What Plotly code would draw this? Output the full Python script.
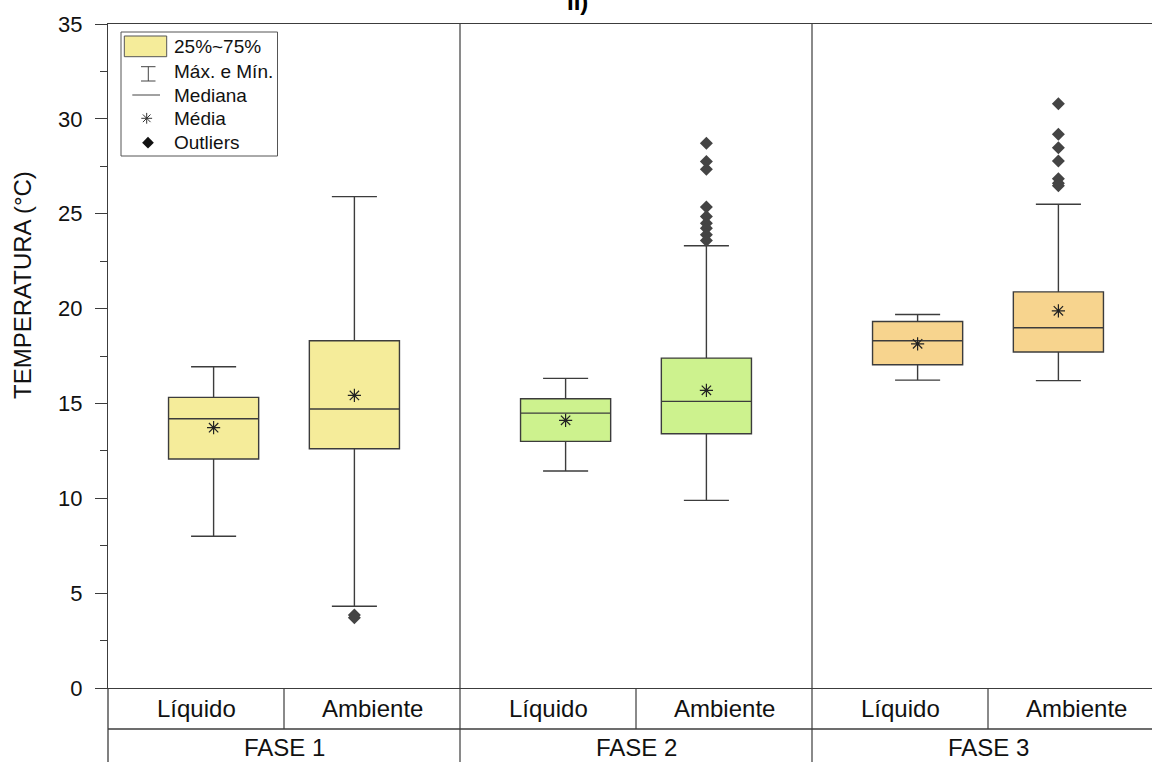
import plotly.graph_objects as go

# ---------------- data ----------------
phases = ["FASE 1", "FASE 2", "FASE 3"]
groups = ["Líquido", "Ambiente"]
fill_colors = ["#F5EC9A", "#CDF28E", "#F7D48E"]

# box order: F1 Líquido, F1 Ambiente, F2 Líquido, F2 Ambiente, F3 Líquido, F3 Ambiente
q1 = [12.07, 12.61, 13.00, 13.40, 17.04, 17.71]
median = [14.19, 14.71, 14.49, 15.11, 18.30, 18.99]
q3 = [15.32, 18.30, 15.25, 17.39, 19.32, 20.88]
lower = [8.00, 4.31, 11.44, 9.89, 16.23, 16.20]
upper = [16.93, 25.90, 16.32, 23.31, 19.69, 25.50]
mean = [13.72, 15.42, 14.11, 15.69, 18.14, 19.88]
outliers = [
    [],
    [3.85, 3.70],
    [],
    [28.72, 27.75, 27.35, 25.35, 24.85, 24.50, 24.24, 23.89, 23.59],
    [],
    [30.79, 29.19, 28.48, 27.78, 26.84, 26.61, 26.47],
]
y_ticks = [0, 5, 10, 15, 20, 25, 30, 35]
legend_labels = ["25%~75%", "Máx. e Mín.", "Mediana", "Média", "Outliers"]

# ---------------- layout constants ----------------
W, H = 1152, 762
L, T, B = 108, 24, 74
plot_w = W - L
plot_h = H - T - B
PHASE_PX = 352.0
XMIN = -0.5
XMAX = XMIN + plot_w / PHASE_PX
OFF = 0.2
BOXW = 0.256
LINE = "#3c3c3c"
FONT = "Liberation Sans, Arial, sans-serif"


def pxx(p):
    return (p - L) / plot_w


def pxy(p):
    return (H - B - p) / plot_h


positions = []
colors = []
for i, ph in enumerate(phases):
    for j, g in enumerate(groups):
        positions.append(i + (j - 0.5) * 2 * OFF)
        colors.append(fill_colors[i])

fig = go.Figure()

for k in range(len(positions)):
    fig.add_trace(go.Box(
        x=[positions[k]], q1=[q1[k]], median=[median[k]], q3=[q3[k]],
        lowerfence=[lower[k]], upperfence=[upper[k]],
        width=BOXW, whiskerwidth=0.5, fillcolor=colors[k],
        line=dict(color=LINE, width=1.4), boxpoints=False,
        showlegend=False, hoverinfo="skip",
    ))

# outliers
ox, oy = [], []
for k in range(len(positions)):
    for v in outliers[k]:
        ox.append(positions[k])
        oy.append(v)
fig.add_trace(go.Scatter(
    x=ox, y=oy, mode="markers", showlegend=False, hoverinfo="skip",
    marker=dict(symbol="diamond", size=10, color="#444444", line=dict(width=0)),
))

# means
fig.add_trace(go.Scatter(
    x=positions, y=mean, mode="markers", showlegend=False, hoverinfo="skip",
    marker=dict(symbol="asterisk-open", size=11, color="#222222",
                line=dict(color="#222222", width=1.2)),
))

# legend markers on pixel overlay axes
leg_rows_y = [46.7, 71.7, 95.0, 118.3, 142.7]
fig.add_trace(go.Scatter(
    x=[146.7], y=[leg_rows_y[3]], xaxis="x2", yaxis="y2", mode="markers",
    showlegend=False, hoverinfo="skip",
    marker=dict(symbol="asterisk-open", size=9, color="#333333",
                line=dict(color="#333333", width=1)),
))
fig.add_trace(go.Scatter(
    x=[148], y=[leg_rows_y[4]], xaxis="x2", yaxis="y2", mode="markers",
    showlegend=False, hoverinfo="skip",
    marker=dict(symbol="diamond", size=9, color="#111111"),
))

shapes = []
ROW_Y = 729
# phase separators
for b in [0.5, 1.5]:
    shapes.append(dict(type="line", xref="x", yref="paper", x0=b, x1=b,
                       y0=pxy(H), y1=1, line=dict(color=LINE, width=1.2)))
# sub separators in first table row
for i in range(len(phases)):
    shapes.append(dict(type="line", xref="x", yref="paper", x0=i, x1=i,
                       y0=pxy(ROW_Y), y1=0, line=dict(color=LINE, width=1.2)))
# horizontal separator
shapes.append(dict(type="line", xref="paper", yref="paper", x0=0, x1=1,
                   y0=pxy(ROW_Y), y1=pxy(ROW_Y), line=dict(color=LINE, width=1.3)))
# left border extension
shapes.append(dict(type="line", xref="paper", yref="paper", x0=0, x1=0,
                   y0=pxy(H), y1=0, line=dict(color=LINE, width=1.3)))
# legend frame
shapes.append(dict(type="rect", xref="paper", yref="paper", x0=pxx(121), x1=pxx(277.5),
                   y0=pxy(156), y1=pxy(32), line=dict(color="#555555", width=1),
                   fillcolor="rgba(255,255,255,0)"))
shapes.append(dict(type="rect", xref="paper", yref="paper", x0=pxx(124.3), x1=pxx(166.7),
                   y0=pxy(56.7), y1=pxy(36), line=dict(color="#555555", width=1),
                   fillcolor=fill_colors[0]))
# I-beam
shapes.append(dict(type="line", xref="paper", yref="paper", x0=pxx(148.3), x1=pxx(148.3),
                   y0=pxy(81), y1=pxy(66.7), line=dict(color="#444444", width=1)))
for yy in [66.7, 81]:
    shapes.append(dict(type="line", xref="paper", yref="paper", x0=pxx(141), x1=pxx(155.5),
                       y0=pxy(yy), y1=pxy(yy), line=dict(color="#444444", width=1)))
# median line
shapes.append(dict(type="line", xref="paper", yref="paper", x0=pxx(132.3), x1=pxx(160),
                   y0=pxy(95), y1=pxy(95), line=dict(color="#444444", width=1)))

annotations = []
for lab, yy in zip(legend_labels, leg_rows_y):
    annotations.append(dict(text=lab, xref="paper", yref="paper", x=pxx(172), y=pxy(yy),
                            xanchor="left", yanchor="middle", showarrow=False,
                            font=dict(family=FONT, size=19, color="#111111")))
for i, ph in enumerate(phases):
    for j, g in enumerate(groups):
        annotations.append(dict(text=g, xref="x", yref="paper", x=i + (j - 0.5) * 0.5,
                                y=pxy(708.5), xanchor="center", yanchor="middle",
                                showarrow=False,
                                font=dict(family=FONT, size=24, color="#111111")))
    annotations.append(dict(text=ph, xref="x", yref="paper", x=i, y=pxy(747),
                            xanchor="center", yanchor="middle", showarrow=False,
                            font=dict(family=FONT, size=24, color="#111111")))
annotations.append(dict(text="TEMPERATURA (°C)", xref="paper", yref="paper", x=pxx(22),
                        y=pxy(285), textangle=-90, xanchor="center", yanchor="middle",
                        showarrow=False, font=dict(family=FONT, size=24, color="#111111")))
annotations.append(dict(text="<b>II)</b>", xref="paper", yref="paper", x=pxx(577),
                        y=pxy(1), xanchor="center", yanchor="middle", showarrow=False,
                        font=dict(family=FONT, size=24, color="#000000")))

fig.update_layout(
    width=W, height=H,
    margin=dict(l=L, r=0, t=T, b=B, pad=0),
    plot_bgcolor="white", paper_bgcolor="white",
    showlegend=False,
    shapes=shapes, annotations=annotations,
    xaxis=dict(range=[XMIN, XMAX], showticklabels=False, ticks="", showgrid=False,
               zeroline=False, showline=True, mirror=True, linecolor=LINE, linewidth=1.3),
    yaxis=dict(range=[0, 35], tickvals=y_ticks, ticks="outside", ticklen=12, tickwidth=1.2,
               tickcolor=LINE, showgrid=False, zeroline=False, showline=True,
               linecolor=LINE, linewidth=1.3, ticklabelstandoff=8,
               tickfont=dict(family=FONT, size=22, color="#111111"),
               minor=dict(dtick=2.5, ticks="outside", ticklen=7, tickcolor=LINE, tickwidth=1,
                          showgrid=False)),
    xaxis2=dict(overlaying="x", range=[L, W], visible=False, anchor="y2"),
    yaxis2=dict(overlaying="y", range=[H - B, T], visible=False, anchor="x2"),
)

fig.write_html("out.html", include_plotlyjs=True, config={"displayModeBar": False})
